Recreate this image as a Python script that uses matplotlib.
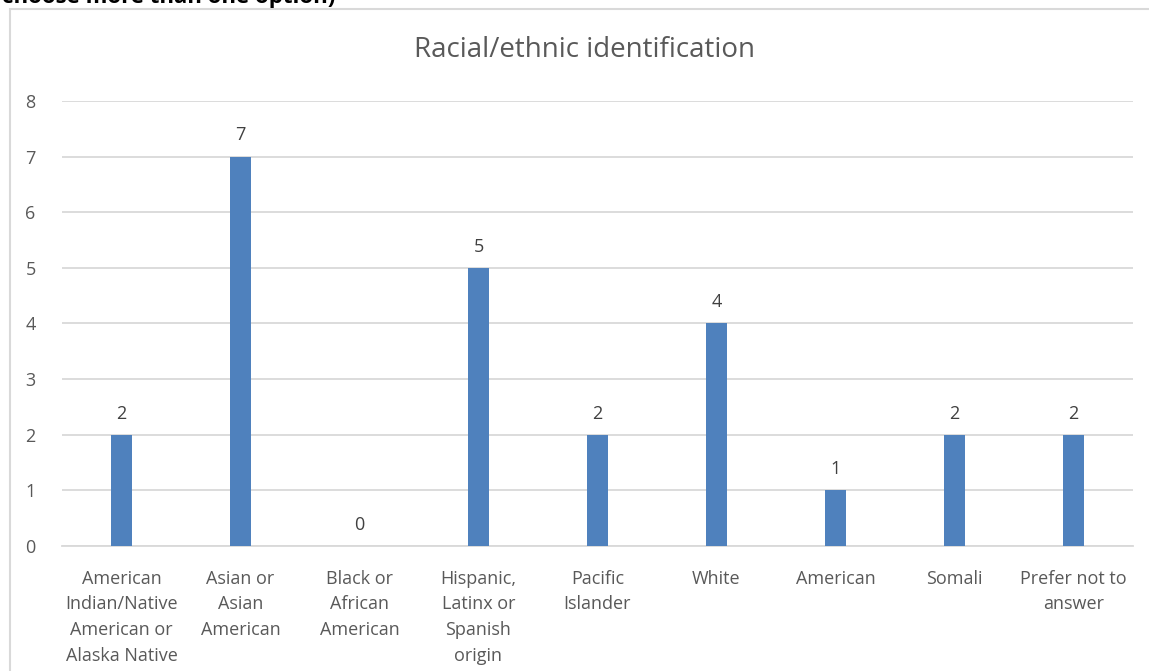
import matplotlib
matplotlib.use("Agg")
import matplotlib.pyplot as plt
from matplotlib.patches import Rectangle

# data
categories = [
    "American\nIndian/Native\nAmerican or\nAlaska Native",
    "Asian or\nAsian\nAmerican",
    "Black or\nAfrican\nAmerican",
    "Hispanic,\nLatinx or\nSpanish\norigin",
    "Pacific\nIslander",
    "White",
    "American",
    "Somali",
    "Prefer not to\nanswer",
]
counts = [2, 7, 0, 5, 2, 4, 1, 2, 2]
y_ticks = [0, 1, 2, 3, 4, 5, 6, 7, 8]

plt.rcParams["font.family"] = ["Open Sans", "DejaVu Sans"]
text_color = "#595959"

fig = plt.figure(figsize=(11.49, 6.71), dpi=100)
ax = fig.add_axes([0.054, 0.1863, 0.932, 0.6632])

x = range(len(categories))
ax.bar(x, counts, width=0.17, color="#4F81BD", zorder=3)
for xi, v in zip(x, counts):
    ax.text(xi, v + 0.22, str(v), ha="center", va="bottom", fontsize=13, color="#404040")

ax.set_xlim(-0.5, len(categories) - 0.5)
ax.set_ylim(0, 8)
ax.set_yticks(y_ticks)
ax.set_xticks(list(x))
ax.set_xticklabels(categories, fontsize=13, color=text_color, linespacing=1.55, va="top")
ax.tick_params(axis="y", labelsize=13, labelcolor=text_color, length=0, pad=19)
ax.tick_params(axis="x", length=0, pad=17)
ax.grid(axis="y", color="#D9D9D9", linewidth=1.3, zorder=0)
for s in ["top", "right", "left"]:
    ax.spines[s].set_visible(False)
ax.spines["bottom"].set_color("#D9D9D9")
ax.spines["bottom"].set_linewidth(1.3)

# title is centred on the whole chart area, not on the plot
fig.text(585 / 1149, 1 - 50 / 671, "Racial/ethnic identification", fontsize=20,
         color=text_color, ha="center", va="center")

# chart area border (cut by the image edges) and clipped heading above it
fig.patches.append(Rectangle((10 / 1149, -0.1), 1.2, 1 - 9 / 671 + 0.1,
                             transform=fig.transFigure, fill=False,
                             edgecolor="#D9D9D9", linewidth=1.5))
fig.text(2 / 1149, 1 + 3 / 671, "choose more than one option)", fontsize=16, fontweight="bold",
         color="black", ha="left", va="center")

fig.savefig("out.png", dpi=100)
